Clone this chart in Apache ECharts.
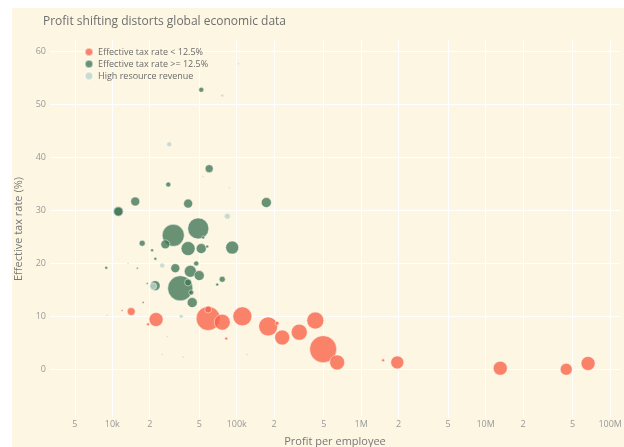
<!DOCTYPE html>
<html><head><meta charset="utf-8">
<script src="https://cdn.jsdelivr.net/npm/echarts@6/dist/echarts.min.js"></script>
<style>html,body{margin:0;padding:0;background:#ffffff;}#c{position:absolute;left:12px;top:8px;width:612px;height:439px;}</style>
</head><body><div id="c"></div>
<script>
// Effective tax rate < 12.5%
const lowProfit = [14200, 22500, 59000, 59000, 76500, 111000, 179000, 232000, 318000, 428000, 495000, 641000, 1500000, 1950000, 13100000, 44400000, 66500000, 82400, 12000, 19400, 211000];
const lowRate   = [10.9, 9.4, 9.6, 11.3, 8.9, 10.0, 8.1, 6.0, 7.0, 9.2, 3.8, 1.3, 1.7, 1.3, 0.2, 0.0, 1.1, 5.8, 11.1, 8.5, 8.7];
const lowWork   = [640, 1960, 5760, 490, 2560, 3610, 3610, 2250, 2560, 2890, 7290, 2250, 90, 1690, 1960, 1440, 1960, 90, 40, 90, 160];

// Effective tax rate >= 12.5%
const highProfit = [51900, 60100, 28200, 15300, 11200, 11200, 40700, 173000, 30900, 49100, 26700, 40700, 51900, 92000, 17400, 20900, 22200, 8950, 32100, 42400, 47300, 50000, 76500, 69700, 22100, 35200, 40700, 43100, 43900, 53800, 57900, 17700, 15900, 19100];
const highRate   = [52.8, 37.9, 34.9, 31.7, 29.8, 29.8, 31.3, 31.5, 25.3, 26.6, 23.6, 22.8, 22.8, 23.0, 23.8, 22.5, 20.9, 19.2, 19.1, 18.5, 20.0, 17.7, 17.0, 16.0, 15.8, 15.3, 16.4, 14.5, 12.6, 24.9, 23.2, 12.6, 19.1, 16.2];
const highWork   = [250, 640, 250, 810, 1000, 810, 810, 1000, 4840, 4410, 810, 1960, 1000, 1690, 360, 90, 90, 90, 810, 1440, 250, 1000, 360, 90, 1000, 6250, 490, 250, 1000, 90, 90, 40, 40, 40];

// High resource revenue
const resProfit = [28700, 76500, 103000, 84000, 25200, 21300, 35800, 13400, 53800, 87100, 27700, 25200, 37200, 121000, 9100];
const resRate   = [42.5, 51.7, 57.7, 28.9, 19.6, 15.7, 10.0, 20.0, 36.4, 34.3, 6.2, 2.8, 2.3, 2.8, 10.2];
const resWork   = [250, 90, 40, 360, 250, 490, 160, 40, 40, 40, 40, 40, 40, 40, 40];

const seriesNames = ['Effective tax rate < 12.5%', 'Effective tax rate >= 12.5%', 'High resource revenue'];
const xTickValues = [5e3, 1e4, 2e4, 5e4, 1e5, 2e5, 5e5, 1e6, 2e6, 5e6, 1e7, 2e7, 5e7, 1e8];
const xTickLabels = ['5', '10k', '2', '5', '100k', '2', '5', '1M', '2', '5', '10M', '2', '5', '100M'];
const yTickValues = [0, 10, 20, 30, 40, 50, 60];

const X_MIN = 3162, X_MAX = 1.2e8;
const xLogTicks = xTickValues.map(v => Math.log10(v));

function pts(px, py, pw) { return px.map((p, i) => [p, py[i], pw[i]]); }
const sizeFn = d => Math.sqrt(d[2] / 10);

const font = 'Open Sans';
const chart = echarts.init(document.getElementById('c'));
chart.setOption({
  animation: false,
  backgroundColor: '#fdf6e3',
  textStyle: { fontFamily: font },
  title: {
    text: 'Profit shifting distorts global economic data',
    left: 26, top: 3,
    textStyle: { fontFamily: font, fontSize: 12, fontWeight: 'normal', color: '#6e6e6e' }
  },
  legend: {
    orient: 'vertical', left: 67, top: 33, itemGap: 0,
    itemWidth: 8, itemHeight: 8, icon: 'circle',
    textStyle: { fontFamily: font, fontSize: 9, color: '#6a6a6a', lineHeight: 12 },
    data: seriesNames
  },
  grid: { left: 38, right: 4, top: 32, bottom: 29, outerBoundsMode: 'none', containLabel: false },
  xAxis: [
    { type: 'log', logBase: 10, min: X_MIN, max: X_MAX,
      axisLine: { show: false }, axisTick: { show: false }, axisLabel: { show: false }, splitLine: { show: false } },
    { type: 'value', min: Math.log10(X_MIN), max: Math.log10(X_MAX), position: 'bottom',
      name: 'Profit per employee', nameLocation: 'middle', nameGap: 18,
      nameTextStyle: { fontFamily: font, fontSize: 11, color: '#777' },
      axisLine: { show: false },
      axisTick: { show: false, customValues: xLogTicks },
      axisLabel: { customValues: xLogTicks, margin: 2, fontFamily: font, fontSize: 9, color: '#999',
        formatter: v => { let best = 0; xLogTicks.forEach((t, i) => { if (Math.abs(t - v) < Math.abs(xLogTicks[best] - v)) best = i; }); return xTickLabels[best]; } },
      splitLine: { show: true, lineStyle: { color: '#ffffff', width: 1 } } }
  ],
  yAxis: {
    type: 'value', min: -9.2, max: 62.2,
    name: 'Effective tax rate (%)', nameLocation: 'middle', nameGap: 25,
    nameTextStyle: { fontFamily: font, fontSize: 11, color: '#777' },
    axisLine: { show: false },
    axisTick: { show: false, customValues: yTickValues },
    axisLabel: { customValues: yTickValues, margin: 4, fontFamily: font, fontSize: 9, color: '#999' },
    splitLine: { show: true, lineStyle: { color: '#ffffff', width: 1 } }
  },
  series: [
    { name: seriesNames[0], type: 'scatter', xAxisIndex: 0, data: pts(lowProfit, lowRate, lowWork), symbolSize: sizeFn,
      itemStyle: { color: '#f8654a', opacity: 0.8, borderColor: 'rgba(255,255,255,0.6)', borderWidth: 1 } },
    { name: seriesNames[1], type: 'scatter', xAxisIndex: 0, data: pts(highProfit, highRate, highWork), symbolSize: sizeFn,
      itemStyle: { color: '#447857', opacity: 0.8, borderColor: 'rgba(255,255,255,0.6)', borderWidth: 1 } },
    { name: seriesNames[2], type: 'scatter', xAxisIndex: 0, data: pts(resProfit, resRate, resWork), symbolSize: sizeFn,
      itemStyle: { color: '#bbd5c7', opacity: 0.8, borderColor: 'rgba(255,255,255,0.6)', borderWidth: 1 } }
  ]
});
</script>
</body></html>
